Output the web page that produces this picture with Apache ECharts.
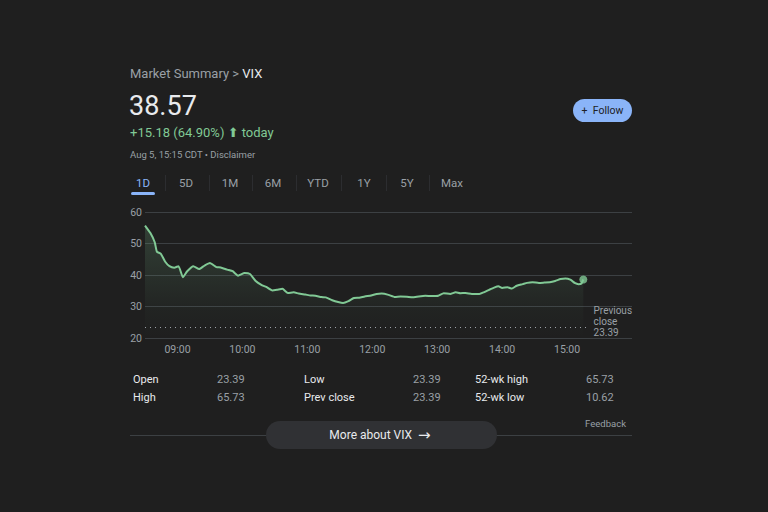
<!DOCTYPE html>
<html>
<head>
<meta charset="utf-8">
<script src="https://cdn.jsdelivr.net/npm/echarts@6/dist/echarts.min.js"></script>
<style>
html,body{margin:0;padding:0;background:#1f1f1f;}
#chart{width:768px;height:512px;}
</style>
</head>
<body>
<div id="chart"></div>
<script>
// Minutes since midnight for each sample (08:30 = 510, 15:15 = 915)
const times = [510,515,519,521,524.5,528.5,532.6,537,541,545,549,554.7,560,565,570,576,580,586,591,596,602,607,612,617.5,622,627.7,632,637,642,647.5,652,658,663,667.5,673,677,683,688.5,693,698,703,708,713,719,724,728.6,735,741,746,752,757,763,769,775,781,786,792,797,801.5,806,812,819,823,828,832.6,836.6,840,845,849,853.5,859,863,868,874,879,884,889,894,898.5,903,907.5,910.5,913,915];
const values = [55.7,53.3,50.4,47.4,46.8,44.3,42.8,42.3,42.8,39.3,41.2,42.8,41.9,43.0,43.8,42.5,42.4,41.7,41.2,39.8,40.6,40.3,38.2,36.9,36.2,35.1,35.3,35.6,34.3,34.5,34.1,33.8,33.5,33.4,33.0,32.9,32.0,31.4,31.1,31.7,32.7,32.8,33.2,33.5,34.0,34.1,33.7,33.0,33.2,33.1,32.9,33.2,33.4,33.3,33.4,34.2,34.0,34.5,34.2,34.3,34.0,34.0,34.5,35.3,36.0,36.4,35.9,36.1,35.7,36.6,37.1,37.5,37.7,37.5,37.6,37.7,38.1,38.7,38.9,38.5,37.4,37.1,37.2,38.57];
const prevClose = 23.39;
const yTicks = [20,30,40,50,60];
const xTickLabels = ['09:00','10:00','11:00','12:00','13:00','14:00','15:00'];
const tabs = ['1D','5D','1M','6M','YTD','1Y','5Y','Max'];
const statLabels = ['Open','High','Low','Prev close','52-wk high','52-wk low'];
const statValues = ['23.39','65.73','23.39','23.39','65.73','10.62'];
const headline = '38.57';
const change = '+15.18 (64.90%)';
const stamp = 'Aug 5, 15:15 CDT \u2022 Disclaimer';

const FONT = 'Roboto, Arial, sans-serif';
const green = '#81c995';
const seriesData = times.map((t,i)=>[t, values[i]]);
const last = seriesData[seriesData.length-1];

const chart = echarts.init(document.getElementById('chart'), null, {renderer:'svg'});

const graphics = [];
// Header
graphics.push({type:'text', left:130, top:67, style:{
  text:'{a|Market Summary > }{b|VIX}',
  rich:{a:{fill:'#9aa0a6', fontSize:13, fontFamily:FONT}, b:{fill:'#e8eaed', fontSize:13, fontFamily:FONT}}
}});
graphics.push({type:'text', left:129, top:92, style:{text:headline, fill:'#e8eaed', font:'27px '+FONT}});
graphics.push({type:'text', left:130, top:126, style:{
  text:'{a|'+change+' }{b|\u2B06}{a| today}',
  rich:{a:{fill:green, fontSize:13, fontFamily:FONT}, b:{fill:green, fontSize:13, fontFamily:'DejaVu Sans'}}
}});
graphics.push({type:'text', left:130, top:149, style:{text:stamp, fill:'#9aa0a6', font:'9.5px '+FONT}});
// Follow button
graphics.push({type:'rect', shape:{x:573, y:99, width:59, height:23, r:11.5}, style:{fill:'#8ab4f8'}});
graphics.push({type:'text', x:602.5, y:110.5, style:{text:'+  Follow', fill:'#202124', font:'10.5px '+FONT, align:'center', verticalAlign:'middle'}});
// Tabs
const tabX = [143,186,230,273,318,364,407,452];
tabs.forEach((t,i)=>{
  graphics.push({type:'text', x:tabX[i], y:183, style:{text:t, fill: i===0 ? '#8ab4f8' : '#9aa0a6', font:'11.5px '+FONT, align:'center', verticalAlign:'middle'}});
});
[165,209,252,296,341,386,429].forEach(x=>{
  graphics.push({type:'rect', shape:{x:x, y:175, width:1, height:16}, style:{fill:'#2c2d30'}});
});
graphics.push({type:'rect', shape:{x:131, y:192, width:24, height:3, r:1.5}, style:{fill:'#8ab4f8'}});
// Stats table
const colLabelX = [133,304,475];
const colValX = [217,413,586];
const rowY = [379,397];
statLabels.forEach((l,i)=>{
  const c = Math.floor(i/2), r = i%2;
  graphics.push({type:'text', x:colLabelX[c], y:rowY[r], style:{text:l, fill:'#e8eaed', font:'11px '+FONT, verticalAlign:'middle'}});
  graphics.push({type:'text', x:colValX[c], y:rowY[r], style:{text:statValues[i], fill:'#9aa0a6', font:'11px '+FONT, verticalAlign:'middle'}});
});
graphics.push({type:'text', x:626, y:423, style:{text:'Feedback', fill:'#9aa0a6', font:'9.5px '+FONT, align:'right', verticalAlign:'middle'}});
graphics.push({type:'rect', shape:{x:130, y:435, width:502, height:1}, style:{fill:'#3c4043'}});
graphics.push({type:'rect', shape:{x:266, y:421, width:231, height:28, r:14}, style:{fill:'#303134'}});
graphics.push({type:'text', x:380, y:435, style:{
  text:'{a|More about VIX  }{b|\u2192}', align:'center', verticalAlign:'middle',
  rich:{a:{fill:'#e8eaed', fontSize:12, fontFamily:FONT}, b:{fill:'#e8eaed', fontSize:15, fontFamily:'DejaVu Sans'}}
}});

function fmtTime(v){
  const h = Math.floor(v/60), m = v%60;
  if (m !== 0) return '';
  const s = (h<10?'0':'')+h+':00';
  return xTickLabels.indexOf(s) >= 0 ? s : '';
}

chart.setOption({
  backgroundColor:'#1f1f1f',
  animation:false,
  textStyle:{fontFamily:FONT},
  graphic: graphics,
  grid:{left:145, right:136, top:212, bottom:174},
  xAxis:{
    type:'value', min:510, max:960, interval:30,
    axisLine:{show:false}, axisTick:{show:false}, splitLine:{show:false},
    axisLabel:{color:'#9aa0a6', fontSize:10.5, margin:6, formatter:fmtTime, showMinLabel:true, showMaxLabel:false}
  },
  yAxis:{
    type:'value', min:yTicks[0], max:yTicks[yTicks.length-1], interval:10,
    axisLine:{show:false}, axisTick:{show:false},
    splitLine:{lineStyle:{color:'#3c4043', width:1}},
    axisLabel:{color:'#9aa0a6', fontSize:10.5, margin:3}
  },
  series:[
    {
      type:'line', data:seriesData, showSymbol:false, smooth:0.15,
      lineStyle:{color:green, width:2},
      areaStyle:{color:new echarts.graphic.LinearGradient(0,0,0,1,[
        {offset:0, color:'rgba(129,201,149,0.28)'},
        {offset:0.75, color:'rgba(129,201,149,0.04)'},
        {offset:1, color:'rgba(129,201,149,0)'}
      ])},
      markLine:{
        silent:true, symbol:['none','none'],
        lineStyle:{color:'#9aa0a6', type:[1,4], width:1},
        label:{show:true, position:'end', formatter:'Previous\nclose\n'+prevClose.toFixed(2), color:'#9aa0a6', fontSize:10, lineHeight:11, align:'left', offset:[2,-6]},
        data:[[{coord:[510, prevClose]},{coord:[918, prevClose]}]]
      }
    },
    {
      type:'scatter', data:[last], symbol:'circle', symbolSize:8,
      itemStyle:{color:green}, silent:true
    }
  ]
});
</script>
</body>
</html>
